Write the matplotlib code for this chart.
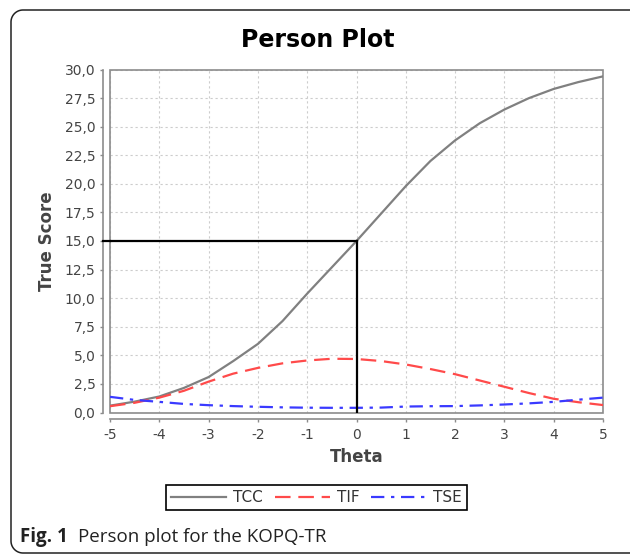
import numpy as np
import matplotlib
matplotlib.use("Agg")
import matplotlib.pyplot as plt
from matplotlib.lines import Line2D
from matplotlib.patches import Rectangle

# ---- data ----
theta = [-5, -4.5, -4, -3.5, -3, -2.5, -2, -1.5, -1, -0.5, 0, 0.5, 1, 1.5, 2, 2.5, 3, 3.5, 4, 4.5, 5]
tcc = [0.6, 0.95, 1.4, 2.15, 3.1, 4.5, 6.0, 8.0, 10.4, 12.7, 15.0, 17.4, 19.8, 22.0, 23.8, 25.3, 26.5, 27.5, 28.3, 28.9, 29.4]
tif = [0.55, 0.85, 1.3, 1.9, 2.7, 3.4, 3.9, 4.3, 4.55, 4.7, 4.68, 4.5, 4.2, 3.8, 3.35, 2.8, 2.25, 1.7, 1.2, 0.9, 0.65]
tse = [1.37, 1.1, 0.93, 0.75, 0.64, 0.56, 0.5, 0.45, 0.42, 0.41, 0.41, 0.43, 0.52, 0.55, 0.56, 0.62, 0.7, 0.8, 0.93, 1.12, 1.3]
series_names = ["TCC", "TIF", "TSE"]
xticks = [-5, -4, -3, -2, -1, 0, 1, 2, 3, 4, 5]
yticks = [0.0, 2.5, 5.0, 7.5, 10.0, 12.5, 15.0, 17.5, 20.0, 22.5, 25.0, 27.5, 30.0]
ref_theta = 0
ref_score = 15.0

W, H = 630, 554
fig = plt.figure(figsize=(W / 100, H / 100), dpi=100)

def fx(px):
    return px / W

def fy(py):
    return 1 - py / H

# plot area in pixels
L, R, T, B = 110, 603, 69.5, 412.5
ax = fig.add_axes([fx(L), fy(B), fx(R) - fx(L), fy(T) - fy(B)])

ax.set_xlim(-5, 5)
ax.set_ylim(0, 30)

grid_c = "#cccccc"
for xv in xticks:
    ax.axvline(xv, color=grid_c, lw=0.8, ls=(0, (2, 2.5)), zorder=1)
for yv in yticks:
    ax.axhline(yv, color=grid_c, lw=0.8, ls=(0, (2, 2.5)), zorder=1)

ax.plot(theta, tcc, color="#808080", lw=1.6, label=series_names[0], zorder=4)
ax.plot(theta, tif, color="#ff4a4a", lw=1.6, ls=(0, (7, 3.5)), label=series_names[1], zorder=4)
ax.plot(theta, tse, color="#3a3aff", lw=1.6, ls=(0, (6, 3, 1.5, 3)), label=series_names[2], zorder=4)

# reference lines at theta=0, true score 15
ax.plot([ref_theta, ref_theta], [0, ref_score], color="black", lw=1.6, zorder=5)
ax.plot([-5, ref_theta], [ref_score, ref_score], color="black", lw=1.6, zorder=5)
# extension of the horizontal line to the offset axis
ax.add_line(Line2D([-0.015, 0], [ref_score / 30, ref_score / 30], transform=ax.transAxes,
                   color="black", lw=1.6, clip_on=False, zorder=5))

# plot outline
ax.add_patch(Rectangle((0, 0), 1, 1, transform=ax.transAxes, fill=False,
                       edgecolor="#8c8c8c", lw=1.2, zorder=3, clip_on=False))

for s in ["top", "right"]:
    ax.spines[s].set_visible(False)
ax.spines["left"].set_position(("outward", 5))
ax.spines["bottom"].set_position(("outward", 5))
ax.spines["left"].set_color("#8c8c8c")
ax.spines["bottom"].set_color("#8c8c8c")
ax.spines["left"].set_linewidth(1.2)
ax.spines["bottom"].set_linewidth(1.2)

ax.set_xticks(xticks)
ax.set_xticklabels([str(x) for x in xticks])
ax.set_yticks(yticks)
ax.set_yticklabels([f"{y:.1f}".replace(".", ",") for y in yticks])
ax.tick_params(axis="both", colors="#8c8c8c", labelcolor="#444444", labelsize=10,
               length=2.5, width=1.0, direction="out")
ax.tick_params(axis="y", pad=3)
ax.tick_params(axis="x", pad=4)

ax.set_xlabel("Theta", fontsize=12, fontweight="bold", color="#444444", labelpad=4)
ax.set_ylabel("True Score", fontsize=12, fontweight="bold", color="#444444", labelpad=6)

fig.text(fx(318), fy(40), "Person Plot", fontsize=17, fontweight="heavy",
         ha="center", va="center", color="black")

leg = fig.legend(loc="center", bbox_to_anchor=(fx(316.5), fy(497.5)), ncol=3,
                 frameon=True, fancybox=False, edgecolor="black", framealpha=1,
                 fontsize=11, handlelength=3.6, handletextpad=0.45, columnspacing=0.8,
                 borderpad=0.35)
leg.get_frame().set_linewidth(1.2)
for t in leg.get_texts():
    t.set_color("#333333")

# caption
cap1 = fig.text(fx(20), fy(537), "Fig. 1", fontsize=13.5, fontweight="bold",
                family="Open Sans", ha="left", va="center", color="#222222")
fig.canvas.draw()
bb = cap1.get_window_extent()
fig.text((bb.x1 + 10) / W, fy(537), "Person plot for the KOPQ-TR", fontsize=13.5,
         family="Open Sans", ha="left", va="center", color="#222222")

# rounded frame around the figure (decoration)
r = 12
x0, y0, y1, xr = 11, 10, 553, 650
ang = np.linspace(np.pi / 2, np.pi, 20)
top_arc_x = x0 + r + r * np.cos(ang)
top_arc_y = y0 + r - r * np.sin(ang)
ang2 = np.linspace(np.pi, 1.5 * np.pi, 20)
bot_arc_x = x0 + r + r * np.cos(ang2)
bot_arc_y = y1 - r - r * np.sin(ang2)
px = np.concatenate([[xr], top_arc_x, bot_arc_x, [xr]])
py = np.concatenate([[y0], top_arc_y, bot_arc_y, [y1]])
fig.add_artist(Line2D(px / W, 1 - py / H, transform=fig.transFigure,
                      color="#222222", lw=1.1))

fig.savefig("out.png", dpi=100)
